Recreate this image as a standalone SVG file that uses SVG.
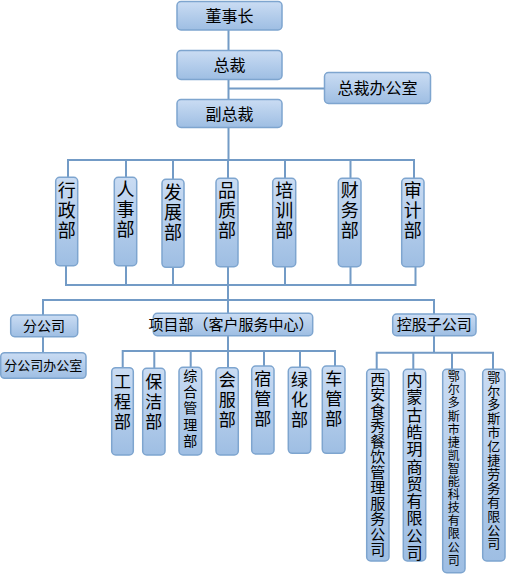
<svg xmlns="http://www.w3.org/2000/svg" width="506" height="574" viewBox="0 0 506 574">
<defs>
<linearGradient id="g" x1="0" y1="0" x2="0" y2="1">
<stop offset="0" stop-color="#cadcf3"/>
<stop offset="1" stop-color="#9ebee3"/>
</linearGradient>
<style>
.box{fill:url(#g);stroke:#7ea5cf;stroke-width:1.5}
.ln{fill:none;stroke:#739bc6;stroke-width:2}
text{font-family:"Noto Sans CJK SC","Noto Sans CJK JP",sans-serif;fill:#000}
.h{text-anchor:middle}
.v{writing-mode:vertical-rl;text-orientation:upright}
</style>
</defs>
<rect width="506" height="574" fill="#fff"/>
<g id="connectors" class="ln">
<path d="M228.5 30V50.5M228.5 79.5V99.5M228.5 88.5H324.5M228.5 127.5V160"/>
<path d="M68 178V160H414V178M126 160V177M173 160V179M228 160V178M285 160V178M350.5 160V178"/>
<path d="M66 266V285H415.5V266M126 266V285M173 267V285M228 266V313M285 266V285M350.5 266V285"/>
<path d="M43 315V300H434V314M43 337V353"/>
<path d="M228 336V351M122.7 368V351H335V366M154.3 351V368M190.7 351V367M228 351V368M264 351V366M300 351V367"/>
<path d="M434 336V352.7M376.7 369V352.7H493V369M413.3 352.7V369M452 352.7V369"/>
</g>
<g id="n-dongshizhang"><rect class="box" x="177" y="1.5" width="105" height="28.5" rx="4"/><text class="h" x="229.5" y="21.5" font-size="16">董事长</text></g>
<g id="n-zongcai"><rect class="box" x="177" y="50.5" width="105" height="29" rx="4"/><text class="h" x="229.5" y="70.5" font-size="16">总裁</text></g>
<g id="n-zongcaiban"><rect class="box" x="324.5" y="72.5" width="106" height="31" rx="4"/><text class="h" x="377.5" y="93.5" font-size="16">总裁办公室</text></g>
<g id="n-fuzongcai"><rect class="box" x="177" y="99.5" width="105" height="28" rx="4"/><text class="h" x="229.5" y="119.5" font-size="16">副总裁</text></g>

<g id="n-xingzheng"><rect class="box" x="55.7" y="177.3" width="22" height="88.4" rx="4"/><text class="v" x="66.7" y="181" font-size="18" letter-spacing="2">行政部</text></g>
<g id="n-renshi"><rect class="box" x="114.3" y="177.3" width="22.4" height="88.4" rx="4"/><text class="v" x="125.5" y="180" font-size="18" letter-spacing="2">人事部</text></g>
<g id="n-fazhan"><rect class="box" x="162" y="179.3" width="22" height="88" rx="4"/><text class="v" x="173" y="183" font-size="18" letter-spacing="2">发展部</text></g>
<g id="n-pinzhi"><rect class="box" x="216" y="178.3" width="22" height="88.4" rx="4"/><text class="v" x="227" y="181.5" font-size="18" letter-spacing="2">品质部</text></g>
<g id="n-peixun"><rect class="box" x="272.7" y="178.3" width="23" height="88.4" rx="4"/><text class="v" x="284.2" y="181.5" font-size="18" letter-spacing="2">培训部</text></g>
<g id="n-caiwu"><rect class="box" x="338.3" y="178.3" width="22.7" height="88.4" rx="4"/><text class="v" x="349.7" y="181.5" font-size="18" letter-spacing="2">财务部</text></g>
<g id="n-shenji"><rect class="box" x="401.7" y="178.3" width="22.3" height="88.4" rx="4"/><text class="v" x="412.8" y="181.5" font-size="18" letter-spacing="2">审计部</text></g>

<g id="n-fengongsi"><rect class="box" x="10.7" y="315" width="67" height="21.7" rx="4"/><text class="h" x="44" y="331" font-size="14">分公司</text></g>
<g id="n-fengongsiban"><rect class="box" x="0.7" y="352.7" width="85.3" height="25.6" rx="4"/><text class="h" x="43.3" y="370" font-size="13">分公司办公室</text></g>
<g id="n-xiangmu"><rect class="box" x="153.3" y="313.3" width="159.4" height="22.4" rx="4"/><text class="h" x="231" y="330" font-size="15">项目部（客户服务中心）</text></g>
<g id="n-konggu"><rect class="box" x="392.7" y="314" width="83.3" height="21.7" rx="4"/><text class="h" x="434.3" y="330" font-size="15">控股子公司</text></g>

<g id="n-gongcheng"><rect class="box" x="111.7" y="367.7" width="21.6" height="87.3" rx="4"/><text class="v" x="122.5" y="373" font-size="17" letter-spacing="3">工程部</text></g>
<g id="n-baojie"><rect class="box" x="142.7" y="368.3" width="22.3" height="86.7" rx="4"/><text class="v" x="153.8" y="373" font-size="17" letter-spacing="3">保洁部</text></g>
<g id="n-zonghe"><rect class="box" x="179" y="367.3" width="22.7" height="87.7" rx="4"/><text class="v" x="190.3" y="368.5" font-size="14" letter-spacing="2.3">综合管理部</text></g>
<g id="n-huifu"><rect class="box" x="216" y="367.7" width="22.3" height="87.3" rx="4"/><text class="v" x="227.2" y="371.5" font-size="17" letter-spacing="3">会服部</text></g>
<g id="n-suguan"><rect class="box" x="251.7" y="366" width="22.3" height="88" rx="4"/><text class="v" x="262.8" y="370" font-size="17" letter-spacing="3">宿管部</text></g>
<g id="n-lvhua"><rect class="box" x="288.3" y="367.3" width="22.4" height="86" rx="4"/><text class="v" x="299.5" y="371" font-size="17" letter-spacing="3">绿化部</text></g>
<g id="n-cheguan"><rect class="box" x="322.3" y="366" width="22.7" height="87.3" rx="4"/><text class="v" x="333.7" y="370" font-size="17" letter-spacing="3">车管部</text></g>

<g id="n-xian"><rect class="box" x="366.7" y="369.3" width="22.3" height="191.7" rx="4"/><text class="v" x="377.8" y="371.5" font-size="15" letter-spacing="0.5">西安食秀餐饮管理服务公司</text></g>
<g id="n-neimenggu"><rect class="box" x="403.3" y="369.3" width="22.4" height="191.7" rx="4"/><text class="v" x="414.5" y="372" font-size="16" letter-spacing="1.3">内蒙古皓玥商贸有限公司</text></g>
<g id="n-jiekai"><rect class="box" x="442.7" y="369.3" width="22.3" height="203.4" rx="4"/><text class="v" x="453.8" y="370.7" font-size="12" letter-spacing="1.1">鄂尔多斯市捷凯智能科技有限公司</text></g>
<g id="n-yijie"><rect class="box" x="482.7" y="369.3" width="22.3" height="191.7" rx="4"/><text class="v" x="493.8" y="370.2" font-size="13" letter-spacing="0.9">鄂尔多斯市亿捷劳务有限公司</text></g>
</svg>
